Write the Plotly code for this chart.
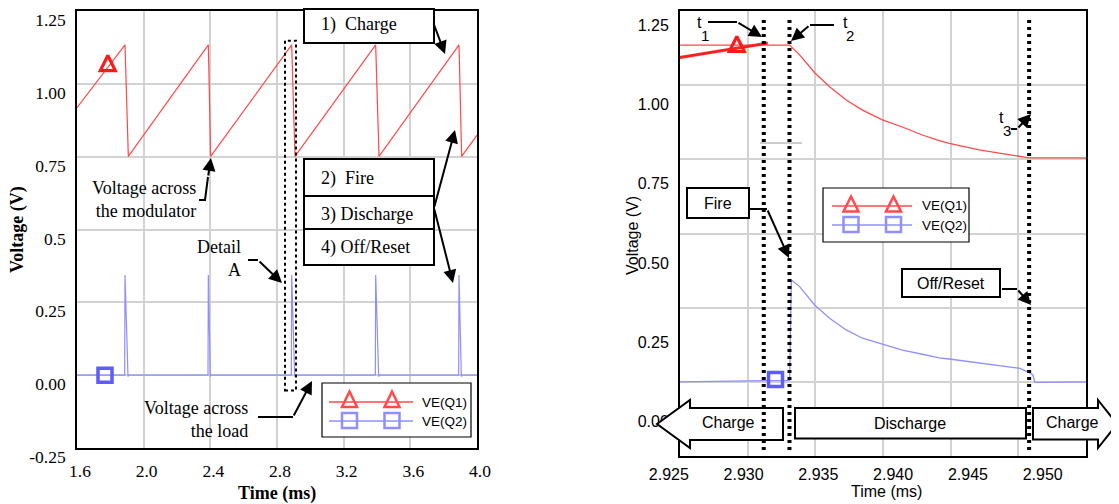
import plotly.graph_objects as go

# ---------------- data ----------------
# Overview panel (left): emitter voltages of Q1 and Q2 over several cycles (time in ms, volts)
q1_time_overview = [1.600, 1.888, 1.908, 2.388, 2.402, 2.888, 2.908, 3.392, 3.412, 3.892, 3.908, 4.000]
q1_volt_overview = [0.918, 1.134, 0.751, 1.134, 0.751, 1.134, 0.751, 1.134, 0.751, 1.134, 0.751, 0.824]
q2_time_overview = [1.600, 1.886, 1.888, 1.906, 1.910, 2.386, 2.388, 2.400, 2.404,
                    2.886, 2.888, 2.906, 2.910, 3.390, 3.392, 3.410, 3.414,
                    3.890, 3.892, 3.906, 3.910, 4.000]
q2_volt_overview = [0.000, 0.000, 0.344, -0.005, 0.000, 0.000, 0.344, -0.005, 0.000,
                    0.000, 0.344, -0.005, 0.000, 0.000, 0.344, -0.005, 0.000,
                    0.000, 0.344, -0.005, 0.000, 0.000]
q1_mark_time_overview = [1.785]
q1_mark_volt_overview = [1.097]
q2_mark_time_overview = [1.768]
q2_mark_volt_overview = [0.000]
detail_window = [2.848, 2.914]          # "Detail A" time window
detail_window_volts = [-0.053, 1.148]

# Detail panel (right): one firing event
q1_time_detail = [2.92500, 2.93311, 2.93385, 2.93496, 2.93606, 2.93729, 2.93849, 2.93996,
                  2.94144, 2.94291, 2.94416, 2.94490, 2.94711, 2.95006, 2.95079, 2.95500]
q1_volt_detail = [1.135, 1.135, 1.102, 1.042, 0.995, 0.950, 0.916, 0.883,
                  0.859, 0.832, 0.813, 0.804, 0.782, 0.759, 0.755, 0.755]
q1_ramp_time = [2.92500, 2.93150]
q1_ramp_volt = [1.093, 1.142]
q2_time_detail = [2.92500, 2.93311, 2.93324, 2.93385, 2.93496, 2.93606, 2.93729, 2.93849,
                  2.93996, 2.94144, 2.94291, 2.94416, 2.94490, 2.94711, 2.95006, 2.95079,
                  2.95108, 2.95123, 2.95500]
q2_volt_detail = [0.000, 0.005, 0.343, 0.321, 0.259, 0.214, 0.175, 0.147,
                  0.127, 0.107, 0.093, 0.081, 0.077, 0.063, 0.046, 0.032,
                  0.023, -0.002, 0.000]
q1_mark_time_detail = [2.92921]
q1_mark_volt_detail = [1.164]
q2_mark_time_detail = [2.93207]
q2_mark_volt_detail = [0.008]
event_times = [2.9312, 2.9331, 2.9508]   # t1, t2, t3
event_span = [-0.230, 1.233]

# tick labels
left_xticks = [1.6, 2.0, 2.4, 2.8, 3.2, 3.6, 4.0]
left_xtext = ["1.6", "2.0", "2.4", "2.8", "3.2", "3.6", "4.0"]
left_yticks = [-0.25, 0.0, 0.25, 0.5, 0.75, 1.0, 1.25]
left_ytext = ["-0.25", "0.00", "0.25", "0.5", "0.75", "1.00", "1.25"]
right_xticks = [2.925, 2.930, 2.935, 2.940, 2.945, 2.950]
right_xtext = ["2.925", "2.930", "2.935", "2.940", "2.945", "2.950"]
right_yticks = [0.0, 0.25, 0.5, 0.75, 1.0, 1.25]
right_ytext = ["0.00", "0.25", "0.50", "0.75", "1.00", "1.25"]

# ---------------- layout helpers ----------------
# The page body adds an 8 px offset, so the figure is 8 px smaller than the window
# and every position below is given in window pixels.
OFF = 8
W, H = 1119 - OFF, 504 - OFF
ML, MR, MT, MB = 77 - OFF, 33, 11 - OFF, 48
PW = W - ML - MR
PH = H - MT - MB


def px(x):
    return (x - OFF - ML) / PW


def py(y):
    return (MT + PH - (y - OFF)) / PH


SERIF = "Liberation Serif, Times New Roman, serif"
SANS = "Liberation Sans, Arial, sans-serif"
RED_LINE = "#ff4a4a"
BLUE_LINE = "#8f8fff"
RED_MK = "#ff1a1a"
BLUE_MK = "#5c5cff"
GRID = "#d2d2d2"

fig = go.Figure()

# ---- left traces ----
fig.add_trace(go.Scatter(x=q1_time_overview, y=q1_volt_overview, mode="lines",
                         line=dict(color=RED_LINE, width=1.2), xaxis="x", yaxis="y",
                         showlegend=False, hoverinfo="skip"))
fig.add_trace(go.Scatter(x=q2_time_overview, y=q2_volt_overview, mode="lines",
                         line=dict(color=BLUE_LINE, width=1.2), xaxis="x", yaxis="y",
                         showlegend=False, hoverinfo="skip"))
fig.add_trace(go.Scatter(x=q1_mark_time_overview, y=q1_mark_volt_overview, mode="markers",
                         marker=dict(symbol="arrow-up-open", size=15, color=RED_MK,
                                     line=dict(width=3.2, color=RED_MK)),
                         xaxis="x", yaxis="y", showlegend=False, hoverinfo="skip"))
fig.add_trace(go.Scatter(x=q2_mark_time_overview, y=q2_mark_volt_overview, mode="markers",
                         marker=dict(symbol="square-open", size=14, color=BLUE_MK,
                                     line=dict(width=3.5, color=BLUE_MK)),
                         xaxis="x", yaxis="y", showlegend=False, hoverinfo="skip"))

# ---- right traces ----
fig.add_trace(go.Scatter(x=q1_time_detail, y=q1_volt_detail, mode="lines",
                         line=dict(color=RED_LINE, width=1.3), xaxis="x2", yaxis="y2",
                         showlegend=False, hoverinfo="skip"))
fig.add_trace(go.Scatter(x=q1_ramp_time, y=q1_ramp_volt, mode="lines",
                         line=dict(color="#ff2020", width=3), xaxis="x2", yaxis="y2",
                         showlegend=False, hoverinfo="skip"))
fig.add_trace(go.Scatter(x=q2_time_detail, y=q2_volt_detail, mode="lines",
                         line=dict(color=BLUE_LINE, width=1.3), xaxis="x2", yaxis="y2",
                         showlegend=False, hoverinfo="skip"))
fig.add_trace(go.Scatter(x=q1_mark_time_detail, y=q1_mark_volt_detail, mode="markers",
                         marker=dict(symbol="arrow-up-open", size=15, color=RED_MK,
                                     line=dict(width=3.2, color=RED_MK)),
                         xaxis="x2", yaxis="y2", showlegend=False, hoverinfo="skip"))
fig.add_trace(go.Scatter(x=q2_mark_time_detail, y=q2_mark_volt_detail, mode="markers",
                         marker=dict(symbol="square-open", size=14, color=BLUE_MK,
                                     line=dict(width=3.5, color=BLUE_MK)),
                         xaxis="x2", yaxis="y2", showlegend=False, hoverinfo="skip"))
# label axes of the detail panel (its printed tick labels sit on their own scale)
fig.add_trace(go.Scatter(x=[None], y=[None], mode="lines", xaxis="x3", yaxis="y3",
                         showlegend=False, hoverinfo="skip"))

# ---------------- shapes ----------------
shapes = []


def rect(x0, y0, x1, y1, lw=2, fill="white", color="black"):
    shapes.append(dict(type="rect", xref="paper", yref="paper", x0=px(x0), x1=px(x1),
                       y0=py(y1), y1=py(y0), line=dict(color=color, width=lw),
                       fillcolor=fill, layer="above"))


def path(points, closed=False, lw=2, color="black", fill=None):
    d = "M " + " L ".join(f"{px(x):.5f},{py(y):.5f}" for x, y in points)
    if closed:
        d += " Z"
    s = dict(type="path", xref="paper", yref="paper", path=d,
             line=dict(color=color, width=lw), layer="above")
    if fill:
        s["fillcolor"] = fill
    shapes.append(s)


# left: detail window (data coords)
shapes.append(dict(type="rect", xref="x", yref="y", x0=detail_window[0], x1=detail_window[1],
                   y0=detail_window_volts[0], y1=detail_window_volts[1],
                   line=dict(color="black", width=2, dash="dot"), layer="above"))
# left: stage boxes
rect(304, 9, 434, 43)
rect(304, 159, 434, 196)
rect(304, 196, 434, 229)
rect(304, 229, 434, 265)
# left: connectors
path([(199, 200), (205, 200), (208, 177)])
path([(248, 260), (258, 260)])
path([(258, 417), (293, 417)])
# left legend
rect(322, 383, 471, 437, lw=1.2)
path([(329, 402), (413, 402)], lw=1.5, color=RED_LINE)
path([(329, 421), (413, 421)], lw=1.5, color=BLUE_LINE)
for cx in (349.5, 392):
    path([(cx, 391.5), (cx - 7.5, 407), (cx + 7.5, 407)], closed=True, lw=2.5, color=RED_LINE)
    rect(cx - 7.5, 413, cx + 7.5, 428, lw=2.5, fill="rgba(0,0,0,0)", color=BLUE_LINE)

# right: phase arrows
path([(783, 408), (690, 408), (690, 400), (657, 424), (690, 448), (690, 440), (783, 440)],
     closed=True, lw=2, fill="white")
rect(795, 408, 1026, 438.5)
path([(1033, 408), (1098, 408), (1098, 400), (1117, 424), (1098, 448), (1098, 439.5), (1033, 439.5)],
     closed=True, lw=2, fill="white")
# right: label boxes
rect(687, 188, 749, 218)
rect(902, 269, 1000, 297)
# right: connectors
path([(708, 22), (737, 22)])
path([(834, 25), (810, 25)])
path([(1011, 129), (1017, 129)])
path([(749, 209), (767, 209)])
path([(1002, 289), (1017, 289)])
path([(760, 143), (802, 143)], lw=1, color="#9a9a9a")
# right legend
rect(823, 188, 969, 242, lw=1.2)
path([(832, 206), (912, 206)], lw=1.5, color=RED_LINE)
path([(832, 225), (912, 225)], lw=1.5, color=BLUE_LINE)
for cx in (851, 893.5):
    path([(cx, 196.5), (cx - 7.5, 211.5), (cx + 7.5, 211.5)], closed=True, lw=2.5, color=RED_LINE)
    rect(cx - 7.5, 217, cx + 7.5, 232, lw=2.5, fill="rgba(0,0,0,0)", color=BLUE_LINE)
# right: event lines t1, t2, t3 (data coords)
for t in event_times:
    shapes.append(dict(type="line", xref="x2", yref="y2", x0=t, x1=t,
                       y0=event_span[0], y1=event_span[1],
                       line=dict(color="black", width=4, dash="3px,4px"), layer="above"))

# ---------------- annotations ----------------
ann = []


def text(x, y, s, font, size, xanchor="center", align="center", angle=0):
    ann.append(dict(xref="paper", yref="paper", x=px(x), y=py(y), text=s, showarrow=False,
                    xanchor=xanchor, yanchor="middle", align=align, textangle=angle,
                    font=dict(family=font, size=size, color="black")))


def arrow(tail, tip):
    ann.append(dict(xref="paper", yref="paper", x=px(tip[0]), y=py(tip[1]), text="",
                    showarrow=True, axref="pixel", ayref="pixel",
                    ax=tail[0] - tip[0], ay=tail[1] - tip[1], arrowhead=2, arrowsize=1.3,
                    arrowwidth=2, arrowcolor="black", standoff=0))


# left panel texts
text(198, 199.5, "Voltage across<br>the modulator", SERIF, 18, xanchor="right", align="right")
text(243, 258, "Detail<br>A", SERIF, 18, xanchor="right", align="right")
text(250, 419, "Voltage across<br>the load", SERIF, 18, xanchor="right", align="right")
text(319, 25, "1)\u00a0 Charge", SERIF, 18, xanchor="left")
text(319, 178, "2)\u00a0 Fire", SERIF, 18, xanchor="left")
text(319, 214, "3) Discharge", SERIF, 18, xanchor="left")
text(319, 248, "4) Off/Reset", SERIF, 18, xanchor="left")
text(420, 402, "VE(Q1)", SANS, 13.5, xanchor="left")
text(420, 421.5, "VE(Q2)", SANS, 13.5, xanchor="left")
text(277, 493, "<b>Time (ms)</b>", SERIF, 18)
text(17.5, 229.5, "<b>Voltage (V)</b>", SERIF, 18, angle=-90)
# left arrows
arrow((208, 177), (211, 158))
arrow((258, 260), (282, 283))
arrow((293, 417), (312, 381))
arrow((433, 22), (445, 54))
arrow((434, 208), (455, 130))
arrow((434, 208), (453, 283))

# right panel texts
text(699, 22, "t", SANS, 16)
text(705, 35, "1", SANS, 15)
text(845.5, 22, "t", SANS, 16)
text(850, 35, "2", SANS, 15)
text(1001, 117, "t", SANS, 16)
text(1006.5, 130, "3", SANS, 15)
text(718, 203, "Fire", SANS, 16)
text(951, 283, "Off/Reset", SANS, 16)
text(728, 422, "Charge", SANS, 16)
text(910, 423, "Discharge", SANS, 16)
text(1072, 422, "Charge", SANS, 16)
text(920, 206, "VE(Q1)", SANS, 13.5, xanchor="left")
text(920, 225, "VE(Q2)", SANS, 13.5, xanchor="left")
text(886, 491.5, "Time (ms)", SANS, 16)
text(632, 236, "Voltage (V)", SANS, 16, angle=-90)
# right arrows
arrow((737, 22), (762, 37))
arrow((810, 25), (791, 41))
arrow((1017, 129), (1031, 114))
arrow((767, 209), (789, 258))
arrow((1017, 289), (1031, 305))

frame = dict(showline=True, mirror=True, linecolor="black", linewidth=1.5,
             showgrid=True, gridcolor=GRID, gridwidth=1.5, zeroline=False, ticks="",
             automargin=False)

fig.update_layout(
    width=W, height=H,
    margin=dict(l=ML, r=MR, t=MT, b=MB, pad=0, autoexpand=False),
    paper_bgcolor="white", plot_bgcolor="rgba(0,0,0,0)",
    showlegend=False,
    xaxis=dict(domain=[0, px(477)], range=[1.6, 4.0], tickvals=left_xticks, ticktext=left_xtext,
               tickfont=dict(family=SERIF, size=17.5, color="black"), anchor="y",
               ticklabelstandoff=6, ticklabelshift=3, **frame),
    yaxis=dict(domain=[py(448), 1], range=[-0.25, 1.25], tickvals=left_yticks, ticktext=left_ytext,
               tickfont=dict(family=SERIF, size=17.5, color="black"), anchor="x",
               ticklabelstandoff=6, ticklabelshift=9, **frame),
    xaxis2=dict(domain=[px(679.8), 1], range=[2.925, 2.955], tick0=2.925, dtick=0.005,
                showticklabels=False, anchor="y2", **frame),
    yaxis2=dict(domain=[0, 1], range=[-0.25, 1.25], tick0=0, dtick=0.25,
                showticklabels=False, anchor="x2", **frame),
    xaxis3=dict(domain=[px(668.8), px(1042.7)], range=[2.925, 2.950], tickvals=right_xticks,
                ticktext=right_xtext, anchor="free", position=0, showgrid=False, showline=False,
                zeroline=False, ticks="", tickfont=dict(family=SANS, size=16, color="black"),
                ticklabelstandoff=7, automargin=False),
    yaxis3=dict(domain=[py(421.7), py(25)], range=[0, 1.25], tickvals=right_yticks,
                ticktext=right_ytext, anchor="free", position=px(679.8), showgrid=False,
                showline=False, zeroline=False, ticks="",
                tickfont=dict(family=SANS, size=16, color="black"), ticklabelstandoff=11,
                automargin=False),
    shapes=shapes,
    annotations=ann,
)

fig.write_html("out.html")
